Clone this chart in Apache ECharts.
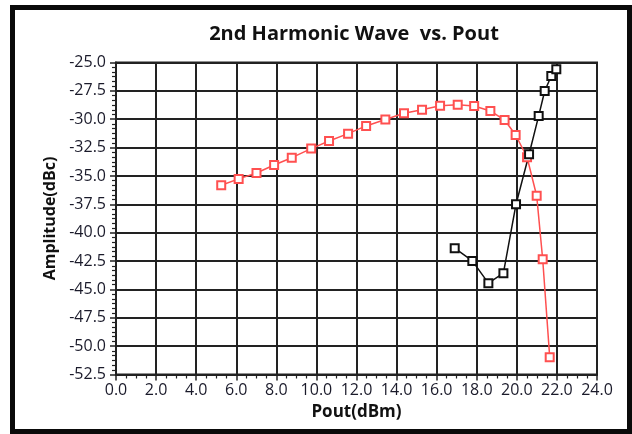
<!DOCTYPE html>
<html>
<head>
<meta charset="utf-8">
<script src="https://cdn.jsdelivr.net/npm/echarts@6/dist/echarts.min.js"></script>
<style>html,body{margin:0;padding:0;background:#fff}#c{width:632px;height:434px}</style>
</head>
<body>
<div id="c"></div>
<script>
const titleText = '2nd Harmonic Wave  vs. Pout';
const xName = 'Pout(dBm)';
const yName = 'Amplitude(dBc)';
const redX = [5.25, 6.12, 7.01, 7.89, 8.77, 9.74, 10.63, 11.58, 12.48, 13.44, 14.37, 15.27, 16.17, 17.05, 17.87, 18.68, 19.39, 19.94, 20.51, 20.99, 21.29, 21.64];
const redY = [-35.82, -35.26, -34.74, -34.03, -33.39, -32.59, -31.92, -31.27, -30.59, -30.03, -29.48, -29.16, -28.81, -28.72, -28.83, -29.27, -30.07, -31.39, -33.35, -36.74, -42.34, -50.97];
const blackX = [16.90, 17.78, 18.58, 19.33, 19.96, 20.61, 21.09, 21.39, 21.72, 21.97];
const blackY = [-41.37, -42.49, -44.45, -43.57, -37.49, -33.09, -29.71, -27.51, -26.19, -25.60];

const pair = (xs, ys) => xs.map((x, i) => [x, ys[i]]);
const font = '"Open Sans", "DejaVu Sans", sans-serif';
const chart = echarts.init(document.getElementById('c'), null, {renderer: 'canvas'});
chart.setOption({
  animation: false,
  backgroundColor: '#fff',
  title: {
    text: titleText, left: 349, top: 19, textAlign: 'center',
    textStyle: {fontFamily: font, fontWeight: 'bold', fontSize: 20, color: '#111'}
  },
  graphic: [{
    type: 'rect', shape: {x: 12.5, y: 7.5, width: 617, height: 424},
    style: {fill: 'none', stroke: '#0a0a0a', lineWidth: 5}, silent: true
  }],
  grid: {left: 116, right: 35, top: 62.5, bottom: 59.5, show: true, borderColor: '#222', borderWidth: 2},
  xAxis: {
    type: 'value', min: 0, max: 24, interval: 2,
    name: xName, nameLocation: 'middle', nameGap: 27,
    nameTextStyle: {fontFamily: font, fontWeight: 'bold', fontSize: 17, color: '#111'},
    axisLine: {show: true, lineStyle: {color: '#222', width: 2}},
    axisTick: {show: true, inside: false, length: 6, lineStyle: {color: '#222', width: 1.5}},
    minorTick: {show: true, splitNumber: 4, length: 4, lineStyle: {color: '#222', width: 1.2}},
    axisLabel: {formatter: v => v.toFixed(1), fontFamily: font, fontSize: 16, color: '#1a1a2a', margin: 8},
    splitLine: {show: true, lineStyle: {color: '#222', width: 2}}
  },
  yAxis: {
    type: 'value', min: -52.5, max: -25, interval: 2.5,
    name: yName, nameLocation: 'middle', nameGap: 56, nameRotate: 90,
    nameTextStyle: {fontFamily: font, fontWeight: 'bold', fontSize: 16, color: '#111'},
    axisLine: {show: true, lineStyle: {color: '#222', width: 2}},
    axisTick: {show: true, inside: false, length: 6, lineStyle: {color: '#222', width: 1.5}},
    minorTick: {show: true, splitNumber: 6, length: 4, lineStyle: {color: '#222', width: 1.2}},
    axisLabel: {formatter: v => v.toFixed(1), fontFamily: font, fontSize: 16, color: '#1a1a2a', margin: 10},
    splitLine: {show: true, lineStyle: {color: '#222', width: 2}}
  },
  series: [
    {
      type: 'line', data: pair(redX, redY), symbol: 'emptyRect', symbolSize: 8,
      lineStyle: {color: '#ff5050', width: 1.5}, itemStyle: {color: '#ff5050', borderWidth: 1.3}
    },
    {
      type: 'line', data: pair(blackX, blackY), symbol: 'emptyRect', symbolSize: 8,
      lineStyle: {color: '#111', width: 1.5}, itemStyle: {color: '#111', borderWidth: 1.3}
    }
  ]
});
</script>
</body>
</html>
